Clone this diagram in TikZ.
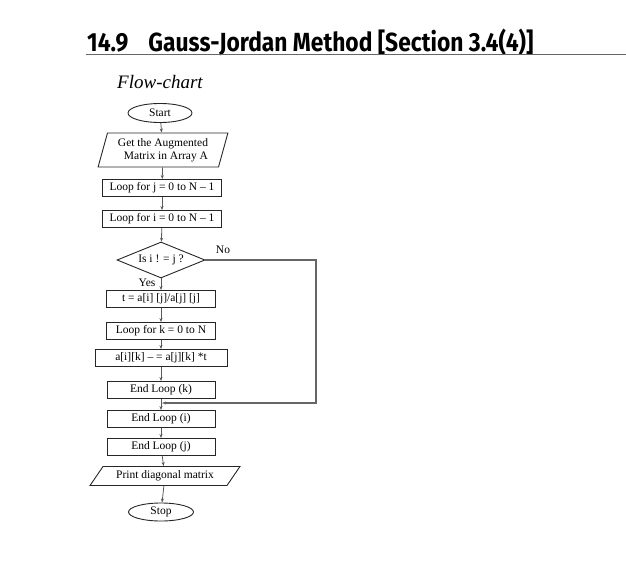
\documentclass[tikz,border=0pt]{standalone}
\usepackage{fontspec}
\setmainfont{Liberation Serif}
\newfontfamily\headfont{Fira Sans}
\usepackage{tikz}
\usetikzlibrary{shapes.geometric,arrows.meta}

\tikzset{
  boxtext/.style={font=\fontsize{11.5}{13}\selectfont},
  flowbox/.style={boxtext, draw=black!85, line width=0.9pt, rectangle,
    minimum height=17pt, inner sep=1pt},
  termbox/.style={boxtext, draw=black!85, line width=0.9pt, ellipse,
    inner sep=0pt},
  iobox/.style={boxtext, draw=black!85, line width=0.9pt, trapezium,
    trapezium stretches=true, inner sep=1pt},
  testbox/.style={boxtext, draw=black!85, line width=0.9pt, diamond,
    minimum width=88pt, minimum height=36pt, inner sep=0pt, aspect=2.4},
  flowline/.style={draw=black!65, line width=0.8pt,
    -{Stealth[length=4pt,width=3pt]}},
  loopline/.style={draw=black!60, line width=1.3pt,
    -{Stealth[length=4pt,width=3pt]}}
}

\begin{document}
\begin{tikzpicture}[x=1pt, y=-1pt]
      \useasboundingbox (0, 0) rectangle (626, 562);

      \node[anchor=base west, inner sep=0pt] (title) at (87, 51)
          {\headfont\bfseries\fontsize{22.8}{27}\selectfont
           \scalebox{1}[1.15]{14.9\hspace{20pt}Gauss-Jordan Method [Section 3.4(4)]}};
      \draw[black!60, line width=0.6pt] (86, 54) -- (626, 54);
      \node[anchor=base west, inner sep=0pt] (subtitle) at (117, 88)
          {\itshape\fontsize{19}{22}\selectfont Flow-chart};

      \node[termbox, minimum width=64pt, minimum height=19pt] (start) at (160, 113)
          {Start};
      \node[iobox, trapezium left angle=73, trapezium right angle=107,
            minimum width=130pt, minimum height=34pt, align=left] (input) at (163, 150)
          {Get the Augmented\\\hspace{6pt}Matrix in Array A};
      \node[flowbox, minimum width=119pt] (loopj) at (162, 188)
          {Loop for j = 0 to N -- 1};
      \node[flowbox, minimum width=119pt] (loopi) at (162, 219)
          {Loop for i = 0 to N -- 1};
      \node[testbox] (test) at (161, 260)
          {Is i ! = j ?};
      \node[flowbox, minimum width=109pt] (ratio) at (161, 299)
          {t = a[i] [j]/a[j] [j]};
      \node[flowbox, minimum width=109pt] (loopk) at (161, 331)
          {Loop for k = 0 to N};
      \node[flowbox, minimum width=132pt] (update) at (161, 358)
          {a[i][k] -- = a[j][k] *t};
      \node[flowbox, minimum width=108pt] (endk) at (161, 390)
          {End Loop (k)};
      \node[flowbox, minimum width=108pt] (endi) at (161, 419)
          {End Loop (i)};
      \node[flowbox, minimum width=108pt] (endj) at (161, 447)
          {End Loop (j)};
      \node[iobox, trapezium left angle=50, trapezium right angle=130,
            minimum width=150pt, minimum height=19pt] (output) at (165, 476)
          {Print diagonal matrix};
      \node[termbox, minimum width=65pt, minimum height=18pt] (stop) at (161, 512)
          {Stop};

      \node[boxtext] (no) at (223, 250) {No};
      \node[boxtext] (yes) at (147, 283) {Yes};

      \coordinate (noturn) at (316, 260);
      \coordinate (backturn) at (316, 403);
      \coordinate (join) at (162, 403);

      \draw[flowline]
        (start) edge (input)
        (input) edge (loopj)
        (loopj) edge (loopi)
        (loopi) edge (test)
        (test) edge (ratio)
        (ratio) edge (loopk)
        (loopk) edge (update)
        (update) edge (endk)
        (endk) edge (endi)
        (endi) edge (endj)
        (endj) edge (output)
        (output) edge (stop);
      \draw[loopline] (test.east) -- (noturn) -- (backturn) -- (join);
    \end{tikzpicture}
\end{document}
